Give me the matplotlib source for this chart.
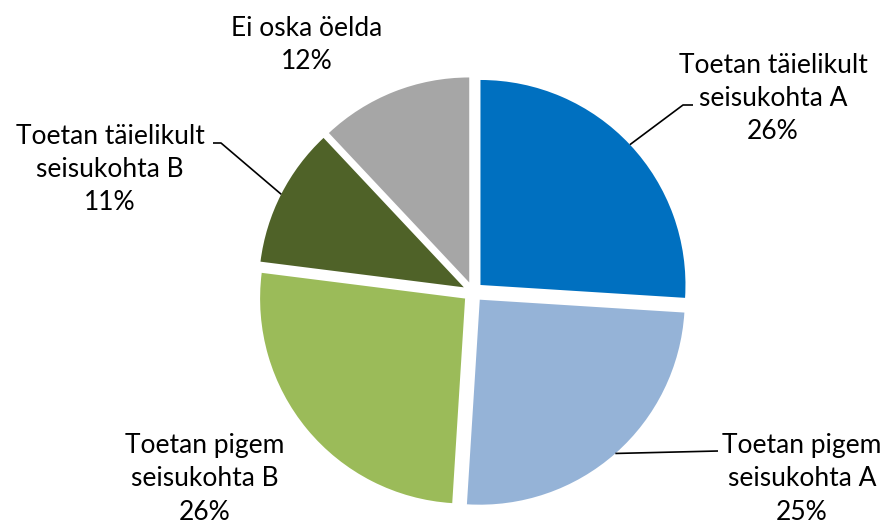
import numpy as np
import matplotlib
matplotlib.use("Agg")
import matplotlib.pyplot as plt

labels = ["Toetan täielikult\nseisukohta A", "Toetan pigem\nseisukohta A",
          "Toetan pigem\nseisukohta B", "Toetan täielikult\nseisukohta B",
          "Ei oska öelda"]
values = [26, 25, 26, 11, 12]
colors = ["#0070C0", "#95B3D7", "#9BBB59", "#4F6228", "#A6A6A6"]

W, H = 892, 527
CX, CY, R = 473, 292, 205

def px(x, y):
    return ((x - CX) / R, (CY - y) / R)

fig = plt.figure(figsize=(W / 100, H / 100), dpi=100)
ax = fig.add_axes([0, 0, 1, 1])

explode = [0.05] * len(values)
wedges, _ = ax.pie(values, colors=colors, startangle=90, counterclock=False,
                   explode=explode, radius=1, center=(0, 0),
                   wedgeprops=dict(linewidth=0))
ax.set_aspect("equal")
ax.set_xlim(-CX / R, (W - CX) / R)
ax.set_ylim(-(H - CY) / R, CY / R)
ax.axis("off")

font = dict(family=["Lato", "DejaVu Sans"], size=19, color="#000000")

# text centers (pixels) and leader elbows
text_pos = [(773, 98), (802, 479), (205, 479), (110, 169), (307, 45)]
elbows = [[(683, 105), (693, 105)],
          [(718, 451)],
          None,
          [(221, 143), (213, 143)],
          None]

for i, w in enumerate(wedges):
    pct = f"{values[i]}%"
    tx, ty = px(*text_pos[i])
    ax.text(tx, ty, f"{labels[i]}\n{pct}", ha="center", va="center",
            linespacing=1.4, **font)
    if elbows[i] is not None:
        ang = np.deg2rad((w.theta1 + w.theta2) / 2)
        c = w.center
        p0 = (c[0] + w.r * np.cos(ang), c[1] + w.r * np.sin(ang))
        pts = [p0] + [px(*e) for e in elbows[i]]
        xs, ys = zip(*pts)
        ax.plot(xs, ys, color="black", linewidth=1.2, solid_capstyle="butt")

fig.savefig("out.png", dpi=100)
